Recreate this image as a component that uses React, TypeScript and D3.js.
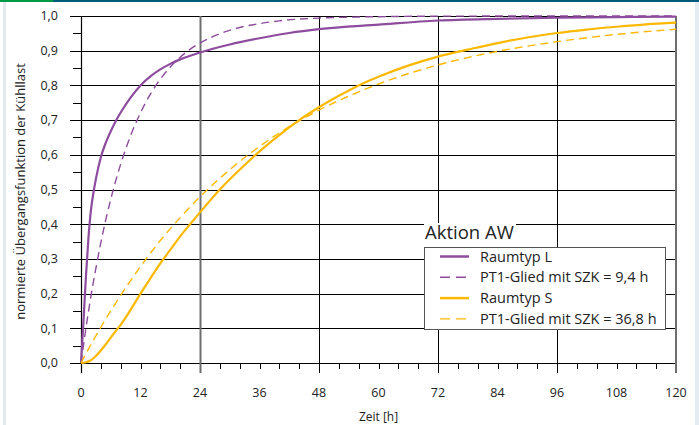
import React from "react";
import * as d3 from "d3";

// Zeitachse in Stunden und normierte Übergangsfunktionen
const timeL = [0, 0.5, 1, 1.5, 2, 2.5, 3, 4, 5, 6, 7, 8, 10, 12, 14, 16, 18, 20, 24, 30, 36, 42, 48, 60, 72, 84, 96, 108, 120];
const raumtypL = [0, 0.12, 0.25, 0.36, 0.44, 0.49, 0.53, 0.593, 0.635, 0.668, 0.697, 0.722, 0.765, 0.8, 0.826, 0.846, 0.862, 0.875, 0.895, 0.918, 0.936, 0.951, 0.962, 0.975, 0.987, 0.992, 0.995, 0.997, 0.998];

const timePT1L = [0, 1, 2, 3, 4, 5, 6, 8, 10, 12, 14, 16, 18, 20, 22, 24, 28, 32, 36, 40, 48, 60, 72, 96, 120];
const pt1L = [0, 0.101, 0.192, 0.273, 0.347, 0.413, 0.472, 0.573, 0.655, 0.721, 0.775, 0.818, 0.853, 0.881, 0.904, 0.922, 0.949, 0.967, 0.978, 0.986, 0.994, 0.998, 0.9995, 1.0, 1.0];

const timeS = [0, 1, 2, 3, 4, 5, 6, 7, 8, 10, 12, 14, 16, 18, 20, 22, 24, 28, 32, 36, 40, 44, 48, 52, 56, 60, 66, 72, 78, 84, 90, 96, 102, 108, 114, 120];
const raumtypS = [0, 0.002, 0.008, 0.02, 0.036, 0.054, 0.073, 0.092, 0.11, 0.153, 0.2, 0.244, 0.287, 0.326, 0.365, 0.4, 0.434, 0.5, 0.557, 0.61, 0.657, 0.7, 0.737, 0.77, 0.8, 0.825, 0.857, 0.883, 0.903, 0.922, 0.938, 0.951, 0.961, 0.969, 0.976, 0.981];

const timePT1S = [0, 2, 4, 6, 8, 12, 16, 20, 24, 30, 36, 42, 48, 54, 60, 72, 84, 96, 108, 120];
const pt1S = [0, 0.053, 0.103, 0.15, 0.195, 0.278, 0.353, 0.419, 0.479, 0.557, 0.624, 0.681, 0.729, 0.769, 0.804, 0.859, 0.898, 0.926, 0.947, 0.962];

const xTicks = [0, 12, 24, 36, 48, 60, 72, 84, 96, 108, 120];
const yTicks = [0, 0.1, 0.2, 0.3, 0.4, 0.5, 0.6, 0.7, 0.8, 0.9, 1.0];
const legendLabels = ["Raumtyp L", "PT1-Glied mit SZK = 9,4 h", "Raumtyp S", "PT1-Glied mit SZK = 36,8 h"];

const PURPLE = "#8d4c9d";
const GOLD = "#fbb800";
const FONT = "'Open Sans', 'Noto Sans', sans-serif";

export default function App() {
  const W = 699;
  const H = 425;
  const left = 81;
  const right = 676;
  const top = 16;
  const bottom = 363;

  const x = d3.scaleLinear().domain([0, 120]).range([left, right]);
  const y = d3.scaleLinear().domain([0, 1]).range([bottom, top]);

  const line = (ts: number[], vs: number[]) =>
    d3
      .line<number>()
      .x((_, i) => x(ts[i]))
      .y((v) => y(v))
      .curve(d3.curveMonotoneX)(vs) as string;

  const minorX = d3.range(0, 121, 4).filter((t) => t % 24 !== 0);
  const majorX = [24, 48, 72, 96];
  const minorY = d3.range(0.05, 1, 0.1);
  const fmt = (v: number) => v.toFixed(1).replace(".", ",");

  const series = [
    { d: line(timeL, raumtypL), color: PURPLE, dash: null, w: 2.2 },
    { d: line(timePT1L, pt1L), color: PURPLE, dash: "8,5", w: 1.4 },
    { d: line(timeS, raumtypS), color: GOLD, dash: null, w: 2.2 },
    { d: line(timePT1S, pt1S), color: GOLD, dash: "8,5", w: 1.4 },
  ];

  const lgX = 424;
  const lgY = 247;
  const lgW = 241;
  const lgH = 82;

  return (
    <svg
      width={W}
      height={H}
      style={{ position: "absolute", left: 0, top: 0, background: "#fff" }}
      fontFamily={FONT}
    >
      {/* Rahmenstreifen */}
      <rect x={0} y={0} width={53} height={2} fill="#009a44" />
      <rect x={53} y={0} width={W - 53} height={2} fill="#005b7a" />
      <rect x={3} y={2} width={3} height={H - 2} fill="#e4e9ee" />
      <rect x={695} y={2} width={4} height={H - 2} fill="#e6edf2" />

      {/* Horizontale Gitterlinien */}
      {yTicks.map((v) => (
        <line key={"gy" + v} x1={70} x2={right} y1={Math.round(y(v)) + 0.5} y2={Math.round(y(v)) + 0.5} stroke="#000" strokeWidth={1} />
      ))}
      {minorY.map((v) => (
        <line key={"my" + v} x1={73} x2={left} y1={Math.round(y(v)) + 0.5} y2={Math.round(y(v)) + 0.5} stroke="#000" strokeWidth={1} />
      ))}

      {/* Vertikale Gitterlinien und Ticks */}
      {minorX.map((t) => (
        <line key={"mx" + t} x1={Math.round(x(t)) + 0.5} x2={Math.round(x(t)) + 0.5} y1={bottom} y2={369} stroke="#000" strokeWidth={1} />
      ))}
      {majorX.map((t) => (
        <line
          key={"vx" + t}
          x1={Math.round(x(t)) + 0.5}
          x2={Math.round(x(t)) + 0.5}
          y1={top}
          y2={373}
          stroke={t === 24 ? "#6e6e6e" : "#000"}
          strokeWidth={t === 24 ? 2 : 1}
        />
      ))}
      <line x1={left + 0.5} x2={left + 0.5} y1={top} y2={373} stroke="#000" strokeWidth={1.2} />
      <line x1={right} x2={right} y1={top} y2={373} stroke="#6e6e6e" strokeWidth={2} />

      {/* Kurven */}
      {series.map((s, i) => (
        <path
          key={"s" + i}
          d={s.d}
          fill="none"
          stroke={s.color}
          strokeWidth={s.w}
          strokeDasharray={s.dash ?? undefined}
        />
      ))}

      {/* Achsenbeschriftung */}
      {yTicks.map((v) => (
        <text key={"ly" + v} x={58} y={y(v)} dy="0.35em" textAnchor="end" fontSize={12.5} fill="#222">
          {fmt(v)}
        </text>
      ))}
      {xTicks.map((t) => (
        <text key={"lx" + t} x={x(t)} y={397} textAnchor="middle" fontSize={12.5} fill="#222">
          {t}
        </text>
      ))}
      <text x={(left + right) / 2} y={421} textAnchor="middle" fontSize={12} fill="#222">
        Zeit [h]
      </text>
      <text
        transform={`translate(25, ${(top + bottom) / 2 + 2}) rotate(-90)`}
        textAnchor="middle"
        fontSize={13}
        fill="#222"
      >
        normierte Übergangsfunktion der Kühllast
      </text>

      {/* Legende */}
      <rect x={lgX} y={223} width={92} height={lgY - 223} fill="#fff" />
      <text x={lgX + 1} y={239} fontSize={18.5} fill="#222">
        Aktion AW
      </text>
      <rect x={lgX + 0.5} y={lgY + 0.5} width={lgW} height={lgH} fill="#fff" stroke="#555" strokeWidth={1} />
      {legendLabels.map((lab, i) => {
        const yy = 256.5 + i * 20.8;
        const s = series[i];
        return (
          <g key={"lg" + i}>
            <line
              x1={440}
              x2={469}
              y1={yy}
              y2={yy}
              stroke={s.color}
              strokeWidth={s.dash ? 1.4 : 2.5}
              strokeDasharray={s.dash ? "10,6" : undefined}
            />
            <text x={480} y={yy} dy="0.35em" fontSize={14.5} fill="#222">
              {lab}
            </text>
          </g>
        );
      })}
    </svg>
  );
}
